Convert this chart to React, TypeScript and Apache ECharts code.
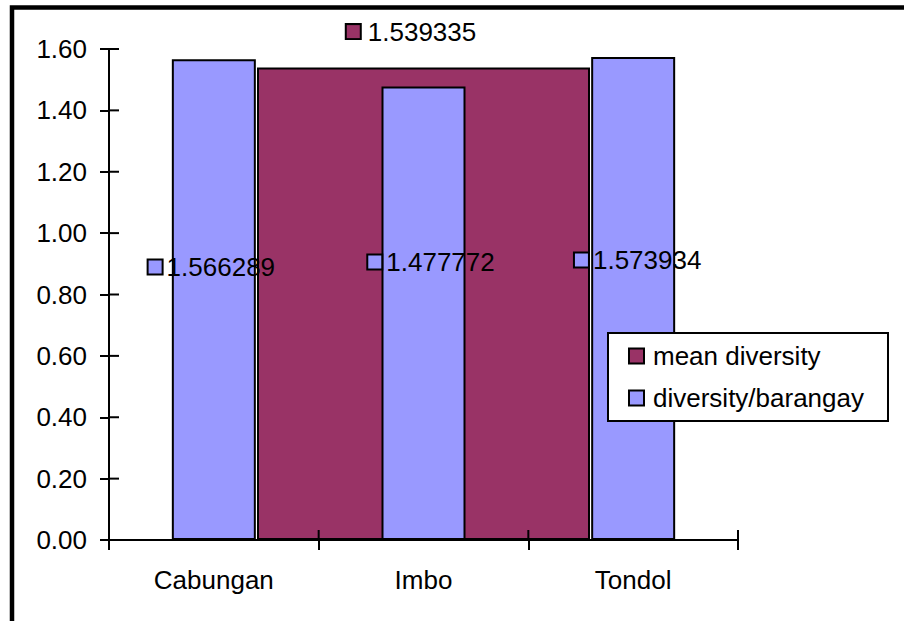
import React, { useEffect, useRef } from "react";
import * as echarts from "echarts";

const categories = ["Cabungan", "Imbo", "Tondol"];
const diversityPerBarangay = [1.566289, 1.477772, 1.573934];
const meanDiversity = 1.539335;
const meanCategory = "Imbo";
const yMin = 0;
const yMax = 1.6;
const yStep = 0.2;

const FONT = "'Liberation Sans', Arial, sans-serif";
const BLUE = "#9999FF";
const MAROON = "#993366";
const FS = 26;
const TICK_COLOR = "#000000";

export default function App() {
  const ref = useRef<HTMLDivElement>(null);
  useEffect(() => {
    if (!ref.current) return;
    const chart = echarts.init(ref.current, null, { renderer: "svg" });
    const blueShift = [
      [-2, -260],
      [8, -265],
      [5, -267],
    ];
    const meanData = categories.map((c) => (c === meanCategory ? meanDiversity : null));
    const keyStyle = (color: string) => ({
      width: 13,
      height: 13,
      backgroundColor: color,
      borderColor: "#000",
      borderWidth: 2,
    });
    const nY = Math.round((yMax - yMin) / yStep);
    const yTickData: number[][] = [];
    for (let i = 0; i <= nY; i++) yTickData.push([0, +(yMin + i * yStep).toFixed(2)]);
    const xTickData: number[][] = [];
    for (let i = 0; i <= categories.length; i++) xTickData.push([Math.min(i, categories.length - 1), yMin, i]);

    const option: any = {
      animation: false,
      backgroundColor: "#fff",
      textStyle: { fontFamily: FONT },
      grid: { left: 109, right: 166, top: 49, bottom: 81, containLabel: false },
      legend: {
        orient: "vertical",
        left: 608,
        top: 333,
        padding: [10, 24, 10, 20],
        itemGap: 16,
        itemWidth: 15,
        itemHeight: 15,
        backgroundColor: "#fff",
        borderColor: "#000",
        borderWidth: 2,
        borderRadius: 0,
        icon: "rect",
        textStyle: { fontSize: FS, color: "#000", fontFamily: FONT, padding: [0, 0, 0, 4] },
        data: ["mean diversity", "diversity/barangay"],
      },
      xAxis: [
        {
          type: "category",
          position: "bottom",
          data: categories,
          axisLine: { lineStyle: { color: "#000", width: 2 } },
          axisTick: { show: true, length: 10, inside: false, lineStyle: { color: "#000", width: 2 } },
          axisLabel: { color: "#000", fontSize: FS, margin: 27, fontFamily: FONT },
        },
        {
          type: "category",
          position: "bottom",
          data: categories,
          axisLine: { show: false },
          axisTick: { show: false },
          axisLabel: { show: false },
        },
      ],
      yAxis: [
        {
          type: "value",
          position: "left",
          min: yMin,
          max: yMax,
          interval: yStep,
          axisLine: { show: true, lineStyle: { color: "#000", width: 2 } },
          axisTick: { show: true, length: 9, inside: false, lineStyle: { color: "#000", width: 2 } },
          axisLabel: {
            color: "#000",
            fontSize: FS,
            margin: 22,
            fontFamily: FONT,
            formatter: (v: number) => v.toFixed(2),
          },
          splitLine: { show: false },
        },
      ],
      series: [
        {
          name: "mean diversity",
          type: "bar",
          xAxisIndex: 1,
          yAxisIndex: 0,
          barWidth: 333,
          z: 2,
          data: meanData,
          itemStyle: { color: MAROON, borderColor: "#000", borderWidth: 2 },
          label: {
            show: true,
            position: "top",
            distance: 0,
            offset: [-12, -23],
            formatter: (p: any) => `{k|}{v|${p.value}}`,
            rich: {
              k: keyStyle(MAROON),
              v: { fontSize: FS, color: "#000", fontFamily: FONT, padding: [0, 0, 0, 8] },
            },
          },
        },
        {
          name: "diversity/barangay",
          type: "bar",
          xAxisIndex: 0,
          yAxisIndex: 0,
          barWidth: 84,
          z: 3,
          itemStyle: { color: BLUE, borderColor: "#000", borderWidth: 2 },
          data: diversityPerBarangay.map((v, i) => ({
            value: v,
            label: { offset: blueShift[i] },
          })),
          label: {
            show: true,
            position: "insideBottom",
            distance: 0,
            formatter: (p: any) => `{k|}{v|${p.value}}`,
            rich: {
              k: keyStyle(BLUE),
              v: { fontSize: FS, color: "#000", fontFamily: FONT, padding: [0, 0, 0, 5] },
            },
          },
        },
        {
          name: "yTicksInner",
          type: "custom",
          xAxisIndex: 0,
          yAxisIndex: 0,
          silent: true,
          clip: false,
          z: 10,
          data: yTickData,
          renderItem: (params: any, api: any) => {
            const c = api.coord([0, api.value(1)]);
            const band = api.size([1, 0])[0];
            const x = c[0] - band / 2;
            return {
              type: "line",
              shape: { x1: x, y1: c[1], x2: x + 10, y2: c[1] },
              style: { stroke: TICK_COLOR, lineWidth: 2 },
            };
          },
        },
        {
          name: "xTicksInner",
          type: "custom",
          xAxisIndex: 0,
          yAxisIndex: 0,
          silent: true,
          clip: false,
          z: 10,
          data: xTickData,
          renderItem: (params: any, api: any) => {
            const ci = api.value(0);
            const i = api.value(2);
            const c = api.coord([ci, yMin]);
            const band = api.size([1, 0])[0];
            const x = c[0] + (i - ci - 0.5) * band;
            return {
              type: "line",
              shape: { x1: x, y1: c[1], x2: x, y2: c[1] - 10 },
              style: { stroke: TICK_COLOR, lineWidth: 2 },
            };
          },
        },
      ],
      graphic: [
        {
          type: "rect",
          silent: true,
          z: 100,
          shape: { x: 12, y: 7.5, width: 1000, height: 1000 },
          style: { fill: "none", stroke: "#000", lineWidth: 4.5 },
        },
      ],
    };
    chart.setOption(option);
    return () => chart.dispose();
  }, []);
  return (
    <div
      ref={ref}
      style={{ position: "fixed", left: 0, top: 0, width: 904, height: 621, background: "#fff" }}
    />
  );
}
